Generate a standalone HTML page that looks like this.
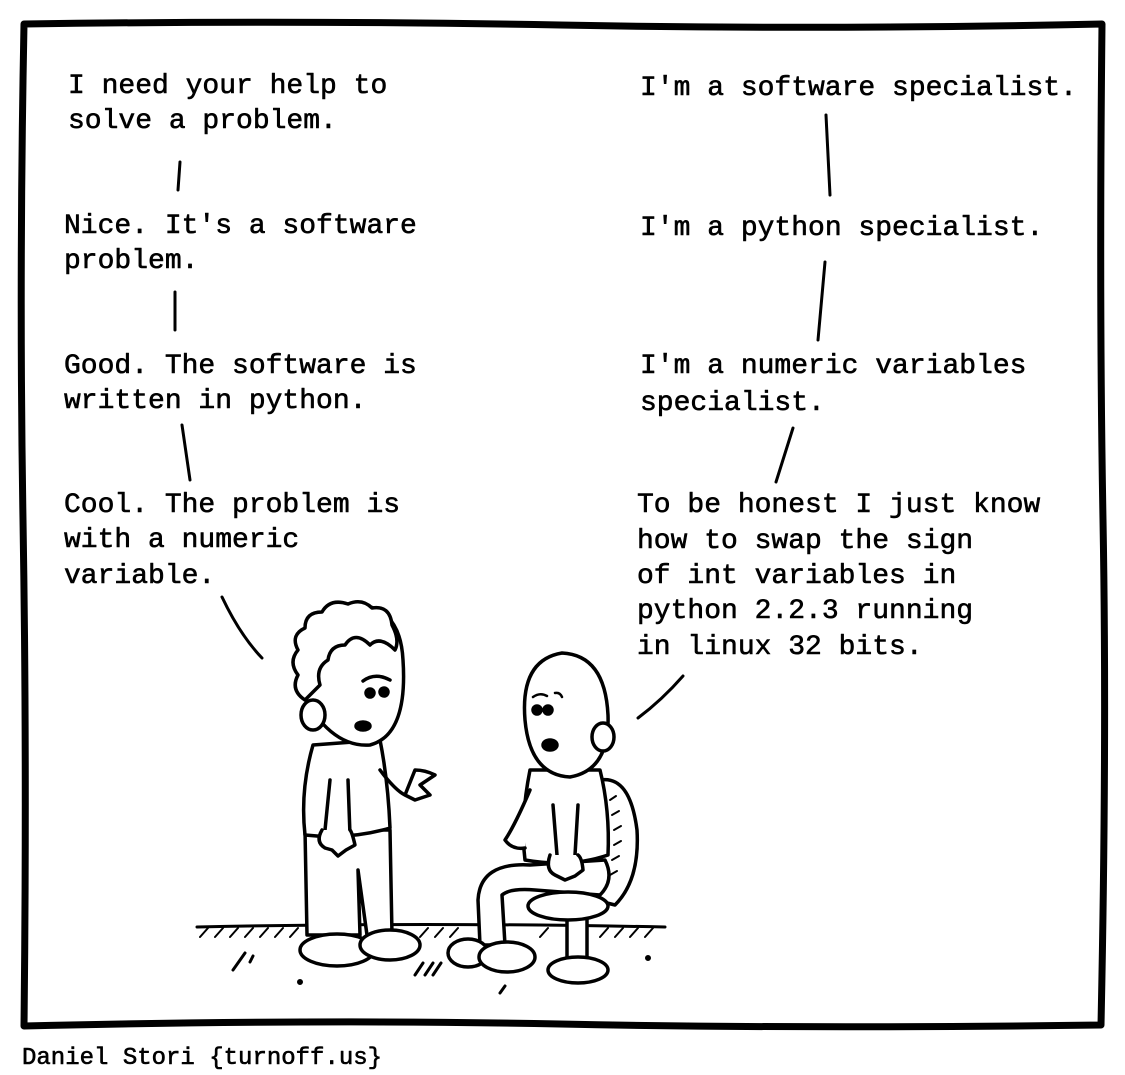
<!DOCTYPE html>
<html><head><meta charset="utf-8"><style>
html,body{margin:0;padding:0;background:#fff;}
svg{display:block;}
text{font-family:"Liberation Mono",monospace;font-size:28px;fill:#000;}
</style></head><body>
<svg width="1125" height="1075" viewBox="0 0 1125 1075" fill="none" stroke="#000" stroke-linecap="round" stroke-linejoin="round">
<path d="M24,24 Q300,20 560,25 T1102,24 Q1099,300 1103,520 T1101,1025 Q800,1029 560,1024 T24,1026 Q27,760 23,520 T24,24 Z" stroke-width="7"/>
<g stroke="#000" stroke-width="0.6">
<text x="68" y="93">I need your help to</text>
<text x="68" y="128">solve a problem.</text>
<text x="64" y="233">Nice. It's a software</text>
<text x="64" y="268">problem.</text>
<text x="64" y="373">Good. The software is</text>
<text x="64" y="408">written in python.</text>
<text x="64" y="512">Cool. The problem is</text>
<text x="64" y="547">with a numeric</text>
<text x="64" y="583">variable.</text>
</g>
<g stroke="#000" stroke-width="0.6">
<text x="640" y="95">I'm a software specialist.</text>
<text x="640" y="235">I'm a python specialist.</text>
<text x="640" y="373">I'm a numeric variables</text>
<text x="640" y="410">specialist.</text>
<text x="637" y="512">To be honest I just know</text>
<text x="637" y="548">how to swap the sign</text>
<text x="637" y="583">of int variables in</text>
<text x="637" y="618">python 2.2.3 running</text>
<text x="637" y="654">in linux 32 bits.</text>
</g>
<g stroke-width="3">
<path d="M180,162 L178,190"/><path d="M175,292 L175,330"/><path d="M182,425 L190,480"/><path d="M222,597 Q240,635 262,658"/>
<path d="M826,115 L830,195"/><path d="M825,262 L818,340"/><path d="M793,428 L776,482"/><path d="M683,676 Q662,700 638,718"/>
</g>
<g stroke-width="3">
<path d="M197,927 Q420,922 665,927"/>
<path d="M200,937 l8,-9 M215,937 l8,-9 M230,937 l8,-9 M245,937 l8,-9 M260,937 l8,-9 M275,937 l8,-9 M290,937 l8,-9 M420,937 l8,-9 M435,937 l8,-9 M450,937 l8,-9 M540,937 l8,-9 M600,937 l8,-9 M615,937 l8,-9 M630,937 l8,-9 M645,937 l8,-9" stroke-width="2"/>
<path d="M233,970 l12,-17 M250,962 l3,-6 M415,975 l8,-12 M425,975 l8,-12 M433,975 l8,-12 M500,993 l5,-7"/>
<circle cx="300" cy="982" r="1.5" fill="#000"/><circle cx="648" cy="958" r="1.5" fill="#000"/>
</g>
<g stroke-width="3.5" fill="#fff">
<path d="M305,830 L307,935 L360,935 L358,870 L367,935 L392,935 L390,830 Z"/>
<ellipse cx="337" cy="950" rx="37" ry="16"/><ellipse cx="390" cy="945" rx="30" ry="15"/>
<path d="M313,745 Q300,790 305,835 Q350,840 390,828 Q388,780 380,740 Z"/>
<path d="M380,770 Q395,790 405,795 L415,770 Q425,770 435,775 L420,785 L430,795 L415,800 L405,795" />
<path d="M330,780 L325,830 M348,780 L350,835" fill="none"/>
<path d="M322,830 Q315,842 325,848 L332,850 L338,856 L346,850 L355,845 Q352,832 350,830" />
<path d="M300,690 Q295,615 345,605 Q400,600 403,660 Q408,735 370,745 Q330,748 300,690 Z"/>
<path d="M305,700 Q290,690 298,675 Q288,662 298,650 Q290,635 305,628 Q305,612 322,612 Q330,598 348,604 Q362,598 372,608 Q390,605 392,625 Q400,640 395,650 Q380,635 370,645 Q355,630 345,645 Q330,645 328,660 Q315,668 320,685 Z"/>
<ellipse cx="313" cy="715" rx="12" ry="15"/>
<circle cx="370" cy="693" r="4" fill="#000"/><circle cx="384" cy="692" r="4" fill="#000"/>
<path d="M363,681 Q375,672 390,680" fill="none"/>
<ellipse cx="363" cy="726" rx="7" ry="4" fill="#000"/>
</g>
<g stroke-width="3.5" fill="#fff">
<path d="M600,780 Q630,775 637,830 Q640,880 615,905 L595,900 Z"/>
<path d="M610,800 l6,-4 M612,815 l7,-4 M614,830 l7,-4 M614,845 l7,-4 M612,860 l7,-4 M610,875 l7,-4" stroke-width="2"/>
<rect x="567" y="915" width="20" height="50"/>
<ellipse cx="578" cy="970" rx="30" ry="13"/>
</g>
<g stroke-width="3.5" fill="#fff">
<path d="M530,770 Q520,820 525,860 Q570,868 608,855 Q610,810 600,770 Z"/>
<path d="M530,865 Q480,862 478,900 L480,945 L505,945 L502,895 Q510,888 535,890 L600,895 Q615,880 605,860 Z"/>
<ellipse cx="568" cy="906" rx="40" ry="14"/>
<ellipse cx="468" cy="953" rx="20" ry="14"/><ellipse cx="507" cy="957" rx="28" ry="15"/>
<path d="M530,790 Q515,825 505,840 Q512,850 525,848" />
<path d="M553,805 L557,855 M578,805 L575,855" fill="none"/>
<path d="M550,855 Q545,870 555,875 L565,880 L575,876 L583,870 Q582,858 578,855"/>
<path d="M525,720 Q520,660 562,653 Q605,655 608,715 Q610,770 570,777 Q530,775 525,720 Z"/>
<ellipse cx="603" cy="737" rx="11" ry="14"/>
<circle cx="537" cy="710" r="4" fill="#000"/><circle cx="548" cy="710" r="4" fill="#000"/>
<path d="M533,697 Q540,692 547,696 M555,693 Q560,692 562,697" fill="none" stroke-width="2.5"/>
<ellipse cx="550" cy="745" rx="7" ry="5" fill="#000"/>
</g>
<text x="22" y="1064" stroke="#000" stroke-width="0.6" style="font-size:24px">Daniel Stori {turnoff.us}</text>
</svg>
</body></html>
